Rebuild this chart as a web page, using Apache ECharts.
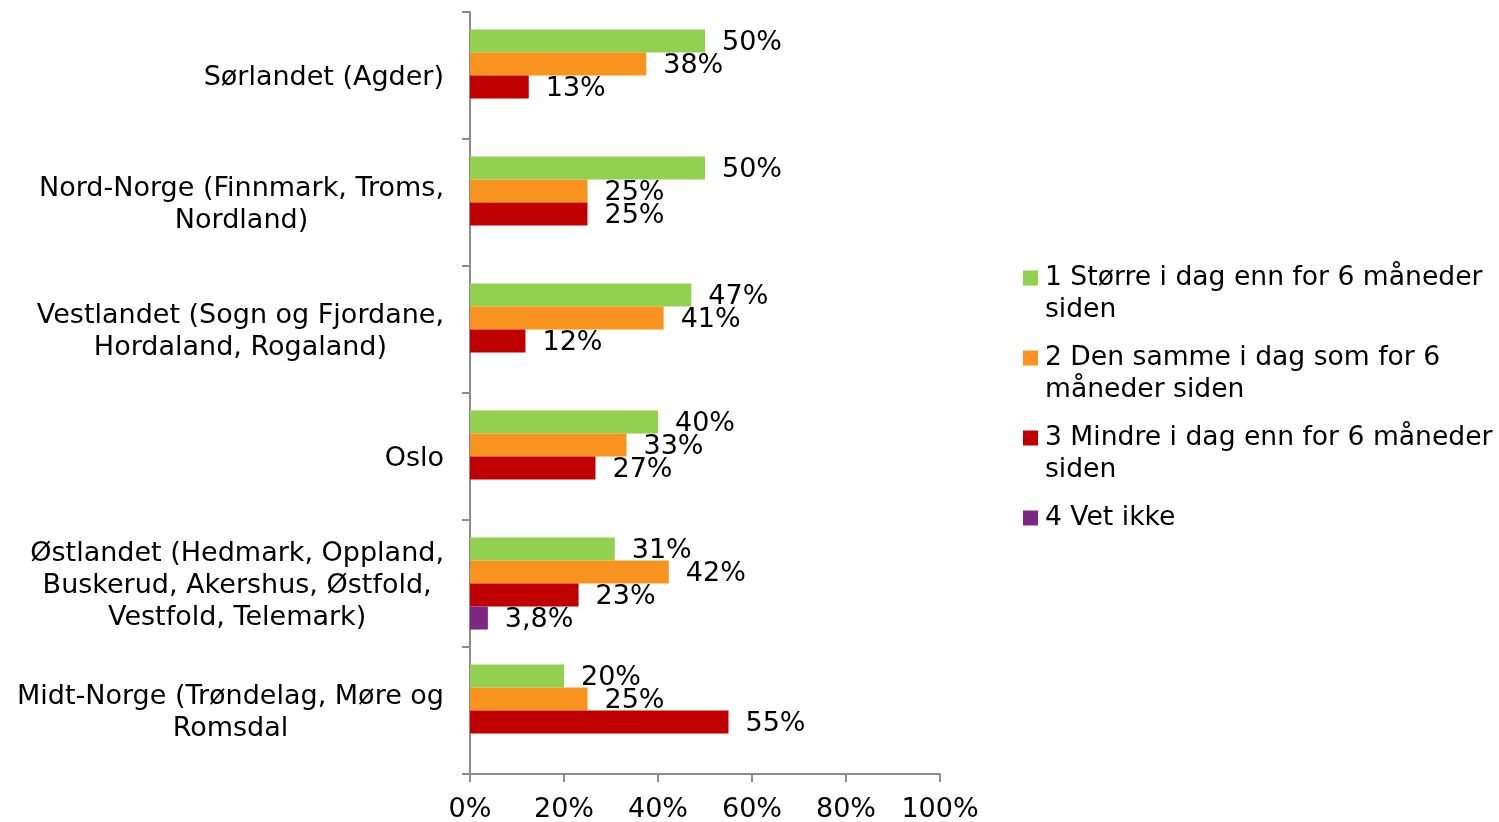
<!DOCTYPE html>
<html>
<head>
<meta charset="utf-8">
<title>Regioner</title>
<script src="https://cdn.jsdelivr.net/npm/echarts@6.0.0/dist/echarts.min.js"></script>
<style>
  html, body { margin: 0; padding: 0; background: #fff; }
  #chart { width: 1499px; height: 822px; }
</style>
</head>
<body>
<div id="chart"></div>
<script>
// regioner, ovenfra og ned
const regions = [
  'Sørlandet (Agder)',
  'Nord-Norge (Finnmark, Troms,\nNordland)',
  'Vestlandet (Sogn og Fjordane,\nHordaland, Rogaland)',
  'Oslo',
  'Østlandet (Hedmark, Oppland,\nBuskerud, Akershus, Østfold,\nVestfold, Telemark)',
  'Midt-Norge (Trøndelag, Møre og\nRomsdal'
];
const seriesNames = [
  '1 Større i dag enn for 6 måneder siden',
  '2 Den samme i dag som for 6 måneder siden',
  '3 Mindre i dag enn for 6 måneder siden',
  '4 Vet ikke'
];
// legend text, wrapped like the original
const legendLabels = [
  '1 Større i dag enn for 6 måneder\nsiden',
  '2 Den samme i dag som for 6\nmåneder siden',
  '3 Mindre i dag enn for 6 måneder\nsiden',
  '4 Vet ikke\n'
];
// prosent
const storre = [50, 50, 47.1, 40, 30.8, 20];
const samme = [37.5, 25, 41.2, 33.3, 42.3, 25];
const mindre = [12.5, 25, 11.8, 26.7, 23.1, 55];
const vetIkke = [null, null, null, null, 3.8, null];
const xTicks = [0, 20, 40, 60, 80, 100];

const colors = ['#92d050', '#f7931e', '#c00000', '#7d2682'];
const FONT = 'DejaVu Sans';
const FS = 27;

let myChart = echarts.init(document.getElementById('chart'));

function pct(v) {
  if (v == null) return '';
  if (v < 10) return v.toFixed(1).replace('.', ',') + '%';
  return Math.round(v) + '%';
}

const values = [storre, samme, mindre, vetIkke];

myChart.setOption({
  animation: false,
  color: colors,
  textStyle: { fontFamily: FONT },
  grid: {
    left: 470,
    right: 559,
    top: 12,
    bottom: 48,
    outerBoundsMode: 'none'
  },
  legend: {
    orient: 'vertical',
    left: 1023,
    top: 230,
    padding: 0,
    itemWidth: 15,
    itemHeight: 15,
    itemGap: -16,
    icon: 'rect',
    selectedMode: false,
    data: seriesNames,
    formatter: function (name) {
      return '\n' + legendLabels[seriesNames.indexOf(name)];
    },
    textStyle: {
      fontFamily: FONT,
      fontSize: 26.6,
      lineHeight: 32,
      color: '#000',
      padding: [0, 0, 0, 2]
    }
  },
  xAxis: {
    type: 'value',
    min: 0,
    max: 100,
    interval: 20,
    splitLine: { show: false },
    axisLine: { show: true, lineStyle: { color: '#8c8c8c', width: 2 } },
    axisTick: { show: true, length: 8, lineStyle: { color: '#8c8c8c', width: 2 } },
    axisLabel: {
      margin: 22,
      fontFamily: FONT,
      fontSize: FS,
      color: '#000',
      formatter: function (v) { return xTicks.indexOf(v) >= 0 ? v + '%' : ''; }
    }
  },
  yAxis: {
    type: 'category',
    inverse: true,
    data: regions,
    axisLine: { show: true, lineStyle: { color: '#8c8c8c', width: 2 } },
    axisTick: { show: true, length: 8, lineStyle: { color: '#8c8c8c', width: 2 } },
    axisLabel: {
      margin: 26,
      fontFamily: FONT,
      fontSize: FS,
      lineHeight: 32,
      color: '#000',
      padding: [4, 0, 0, 0],
      // hver linje sentrert i blokken, blokken høyrejustert
      formatter: function (v) {
        return v.split('\n').map(function (l) { return '{c|' + l + '}'; }).join('\n');
      },
      rich: {
        c: { align: 'center', fontFamily: FONT, fontSize: FS, lineHeight: 32, color: '#000' }
      }
    }
  },
  series: seriesNames.map(function (name, i) {
    return {
      name: name,
      type: 'bar',
      data: values[i],
      barGap: 0,
      barCategoryGap: '27.5%',
      label: {
        show: true,
        position: 'right',
        distance: 17,
        offset: [0, 2],
        fontFamily: FONT,
        fontSize: FS,
        color: '#000',
        formatter: function (p) { return pct(p.value); }
      }
    };
  })
});
</script>
</body>
</html>
